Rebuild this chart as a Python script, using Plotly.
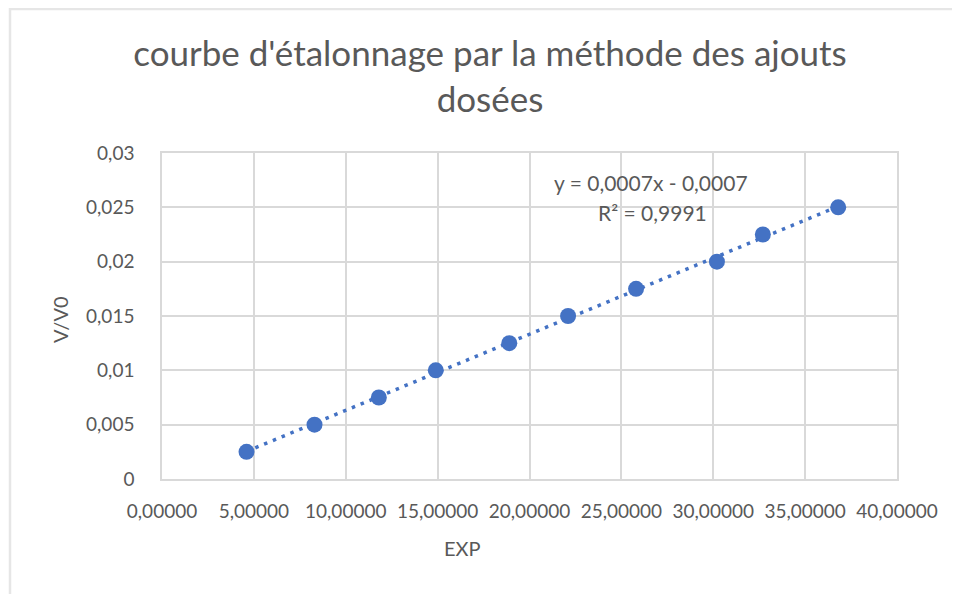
import numpy as np
import plotly.graph_objects as go

# Data
exp_x = [4.6, 8.3, 11.8, 14.9, 18.9, 22.1, 25.8, 30.2, 32.7, 36.8]
v_v0 = [0.0025, 0.005, 0.0075, 0.01, 0.0125, 0.015, 0.0175, 0.02, 0.0225, 0.025]

x_tickvals = [0, 5, 10, 15, 20, 25, 30, 35, 40]
x_ticktext = ["0,00000", "5,00000", "10,00000", "15,00000", "20,00000",
              "25,00000", "30,00000", "35,00000", "40,00000"]
y_tickvals = [0, 0.005, 0.01, 0.015, 0.02, 0.025, 0.03]
y_ticktext = ["0", "0,005", "0,01", "0,015", "0,02", "0,025", "0,03"]

title_text = "courbe d'étalonnage par la méthode des ajouts<br>dosées"
eq_line1 = "y = 0,0007x - 0,0007"
eq_line2 = "R² = 0,9991"

# Linear trendline (least squares on the data)
slope, intercept = np.polyfit(exp_x, v_v0, 1)
trend_x = [min(exp_x), max(exp_x)]
trend_y = [slope * v + intercept for v in trend_x]

BLUE = "#4472C4"
GRAY = "#595959"
GRID = "#d9d9d9"
FONT = "Lato"

OFF = 8  # page body margin: figure is drawn 8px right/down of the window
W, H = 960, 594
L, T = 162 - OFF, 153 - OFF
R = W - (897 - OFF)
B = H - (479 - OFF)
pw, ph = W - L - R, H - T - B


def px_x(sx):
    return (sx - OFF - L) / pw


def px_y(sy):
    return (H - B - (sy - OFF)) / ph


fig = go.Figure()
fig.add_trace(go.Scatter(
    x=trend_x, y=trend_y, mode="lines",
    line=dict(color=BLUE, width=3.5, dash="3.5px,6px"),
    showlegend=False, hoverinfo="skip"))
fig.add_trace(go.Scatter(
    x=exp_x, y=v_v0, mode="markers",
    marker=dict(color=BLUE, size=16),
    showlegend=False))


def ann(text, sx, sy, size, angle=0):
    return dict(text=text, x=px_x(sx), y=px_y(sy), xref="paper", yref="paper",
                xanchor="center", yanchor="middle", showarrow=False,
                textangle=angle, font=dict(size=size, color=GRAY, family=FONT))


fig.update_layout(
    width=W, height=H,
    margin=dict(l=L, r=R, t=T, b=B),
    paper_bgcolor="white", plot_bgcolor="white",
    font=dict(family=FONT, color=GRAY),
    title=dict(text=title_text, x=(490 - OFF) / W, xanchor="center",
               y=1 - 58 / H, yanchor="top", yref="container",
               font=dict(size=35, color=GRAY, family=FONT)),
    xaxis=dict(range=[0, 40], tickvals=x_tickvals, ticktext=x_ticktext,
               showgrid=True, gridcolor=GRID, gridwidth=1.5,
               zeroline=False, showline=True, linecolor=GRID, linewidth=1.5,
               mirror=True, ticks="", ticklabelstandoff=14,
               tickfont=dict(size=19, color=GRAY, family=FONT)),
    yaxis=dict(range=[0, 0.03], tickvals=y_tickvals, ticktext=y_ticktext,
               showgrid=True, gridcolor=GRID, gridwidth=1.5,
               zeroline=False, showline=True, linecolor=GRID, linewidth=1.5,
               mirror=True, ticks="", ticklabelstandoff=22,
               tickfont=dict(size=19, color=GRAY, family=FONT)),
    annotations=[
        ann(eq_line1, 651, 182, 21),
        ann(eq_line2, 652, 212, 21),
        ann("EXP", 462, 548, 20),
        ann("V/V0", 60, 320, 20, -90),
    ],
    shapes=[
        dict(type="line", xref="paper", yref="paper",
             x0=px_x(9), x1=px_x(975),
             y0=px_y(9), y1=px_y(9),
             line=dict(color="#e6e6e6", width=2.5)),
        dict(type="line", xref="paper", yref="paper",
             x0=px_x(10), x1=px_x(10),
             y0=px_y(8), y1=px_y(610),
             line=dict(color="#e6e6e6", width=2.5)),
    ],
)

fig.write_html("out.html")
